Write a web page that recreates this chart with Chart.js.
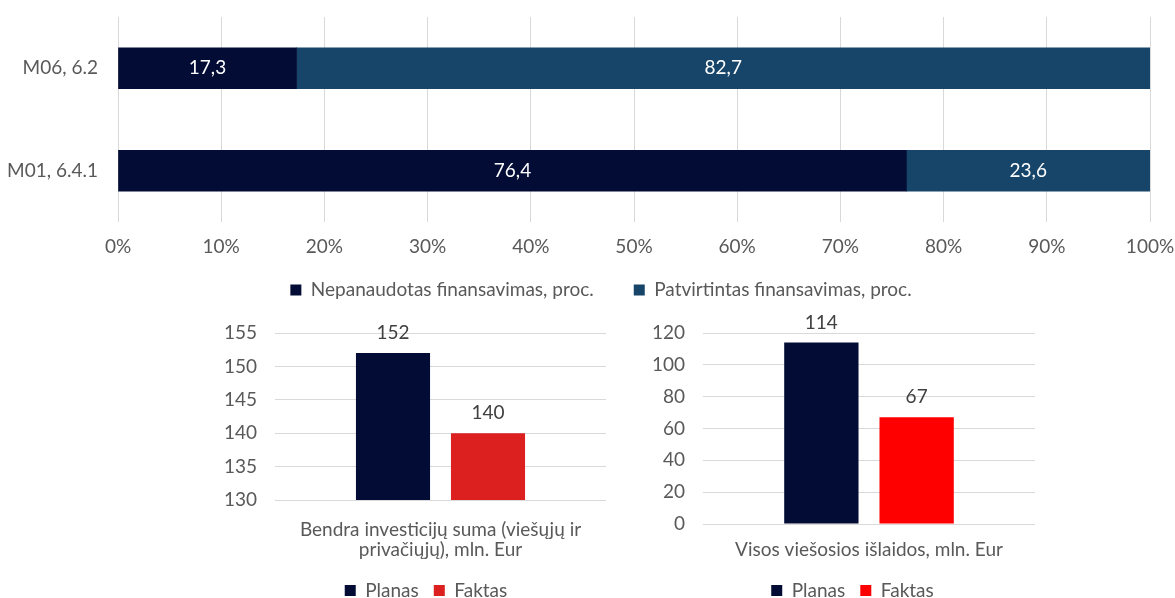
<!DOCTYPE html>
<html>
<head>
<meta charset="utf-8">
<script src="https://cdn.jsdelivr.net/npm/chart.js@4"></script>
<style>
  body { margin: 0; background: #fff; width: 1175px; height: 598px; position: relative; overflow: hidden; }
  .box { position: absolute; }
</style>
</head>
<body>
<div class="box" style="left:0;top:0;width:1175px;height:330px"><canvas id="finansavimas"></canvas></div>
<div class="box" style="left:200px;top:310px;width:420px;height:300px"><canvas id="investicijos"></canvas></div>
<div class="box" style="left:640px;top:310px;width:420px;height:300px"><canvas id="islaidos"></canvas></div>
<script>
// top chart - finansavimas pagal priemones
const priemones = ['M06, 6.2', 'M01, 6.4.1'];
const nepanaudotas = [17.3, 76.4];
const patvirtintas = [82.7, 23.6];

// bottom charts
const investKategorija = [['Bendra investicijų suma (viešųjų ir', 'privačiųjų), mln. Eur']];
const investPlanas = [152];
const investFaktas = [140];
const islaidosKategorija = ['Visos viešosios išlaidos, mln. Eur'];
const islaidosPlanas = [114];
const islaidosFaktas = [67];

const FONT = 'Lato, "Open Sans", sans-serif';
const FSIZE = 19;
const TXT = '#595959';
const GRID = '#d9d9d9';
Chart.defaults.font.family = FONT;
Chart.defaults.font.size = FSIZE;
Chart.defaults.color = TXT;

// value labels (no datalabels plugin available)
const valueLabels = {
  id: 'valueLabels',
  afterDatasetsDraw(chart, args, opts) {
    const ctx = chart.ctx;
    ctx.save();
    ctx.font = FSIZE + 'px ' + FONT;
    ctx.fillStyle = opts.color;
    ctx.textAlign = 'center';
    ctx.textBaseline = 'middle';
    chart.data.datasets.forEach((ds, i) => {
      chart.getDatasetMeta(i).data.forEach((bar, j) => {
        const txt = String(ds.data[j]).replace('.', ',');
        if (opts.inside) {
          const c = bar.getCenterPoint();
          ctx.fillText(txt, c.x, c.y);
        } else {
          ctx.fillText(txt, bar.x, bar.y - opts.offset);
        }
      });
    });
    ctx.restore();
  }
};

// nudge the legend after layout
const legendShift = {
  id: 'legendShift',
  afterLayout(chart, args, opts) {
    const lg = chart.legend;
    if (!lg) return;
    const dx = opts.dx || 0, dy = opts.dy || 0;
    lg.left += dx; lg.right += dx;
    lg.top += dy; lg.bottom += dy;
  }
};

// fixed axis sizes, no automatic label padding
const fixH = h => s => { s.height = h; s.paddingLeft = 0; s.paddingRight = 0; };
const fixW = w => s => { s.width = w; s.paddingTop = 0; s.paddingBottom = 0; };

const legendOpts = gap => ({
  position: 'bottom',
  labels: { boxWidth: 11, boxHeight: 11, padding: gap, color: TXT, font: { size: FSIZE } }
});

new Chart(document.getElementById('finansavimas'), {
  type: 'bar',
  plugins: [valueLabels, legendShift],
  data: {
    labels: priemones,
    datasets: [
      { label: 'Nepanaudotas finansavimas, proc.', data: nepanaudotas, backgroundColor: '#020C35', barThickness: 41 },
      { label: 'Patvirtintas finansavimas, proc.', data: patvirtintas, backgroundColor: '#17456A', barThickness: 41 }
    ]
  },
  options: {
    indexAxis: 'y',
    responsive: true,
    maintainAspectRatio: false,
    animation: false,
    layout: { padding: { top: 17, right: 25, left: 0, bottom: 0 } },
    scales: {
      x: {
        stacked: true, min: 0, max: 100,
        ticks: { stepSize: 10, padding: 13, callback: v => v + '%' },
        grid: { color: GRID, drawTicks: false },
        border: { display: false },
        afterFit: fixH(39)
      },
      y: {
        stacked: true,
        ticks: { padding: 20 },
        grid: { display: false, drawTicks: false },
        border: { display: false },
        afterFit: fixW(118)
      }
    },
    plugins: {
      legend: legendOpts(40),
      legendShift: { dx: 26, dy: -20.5 },
      tooltip: { enabled: false },
      valueLabels: { inside: true, color: '#ffffff' }
    }
  }
});

function columnChart(id, kategorija, planas, faktas, faktasSpalva, yMin, yMax, step, pad, axisW, xH, xPad, dx) {
  return new Chart(document.getElementById(id), {
    type: 'bar',
    plugins: [valueLabels, legendShift],
    data: {
      labels: kategorija,
      datasets: [
        { label: 'Planas', data: planas, backgroundColor: '#020C35', categoryPercentage: 0.574, barPercentage: 0.78 },
        { label: 'Faktas', data: faktas, backgroundColor: faktasSpalva, categoryPercentage: 0.574, barPercentage: 0.78 }
      ]
    },
    options: {
      responsive: true,
      maintainAspectRatio: false,
      animation: false,
      layout: { padding: pad },
      scales: {
        x: {
          ticks: { padding: xPad, font: { lineHeight: 1.1 } },
          grid: { display: false, drawTicks: false },
          border: { display: false },
          afterFit: fixH(xH)
        },
        y: {
          min: yMin, max: yMax,
          ticks: { stepSize: step, padding: 18 },
          grid: { color: GRID, drawTicks: false },
          border: { display: false },
          afterFit: fixW(axisW)
        }
      },
      plugins: {
        legend: legendOpts(15),
        legendShift: { dx: dx },
        tooltip: { enabled: false },
        valueLabels: { inside: false, color: '#404040', offset: 20 }
      }
    }
  });
}

columnChart('investicijos', investKategorija, investPlanas, investFaktas, '#DC1F1F', 130, 155, 5,
  { top: 23, right: 14, left: 0, bottom: 0 }, 75, 66, 19, 23);
columnChart('islaidos', islaidosKategorija, islaidosPlanas, islaidosFaktas, '#FF0000', 0, 120, 20,
  { top: 23, right: 25, left: 0, bottom: 0 }, 63, 42, 15, 15);
</script>
</body>
</html>
